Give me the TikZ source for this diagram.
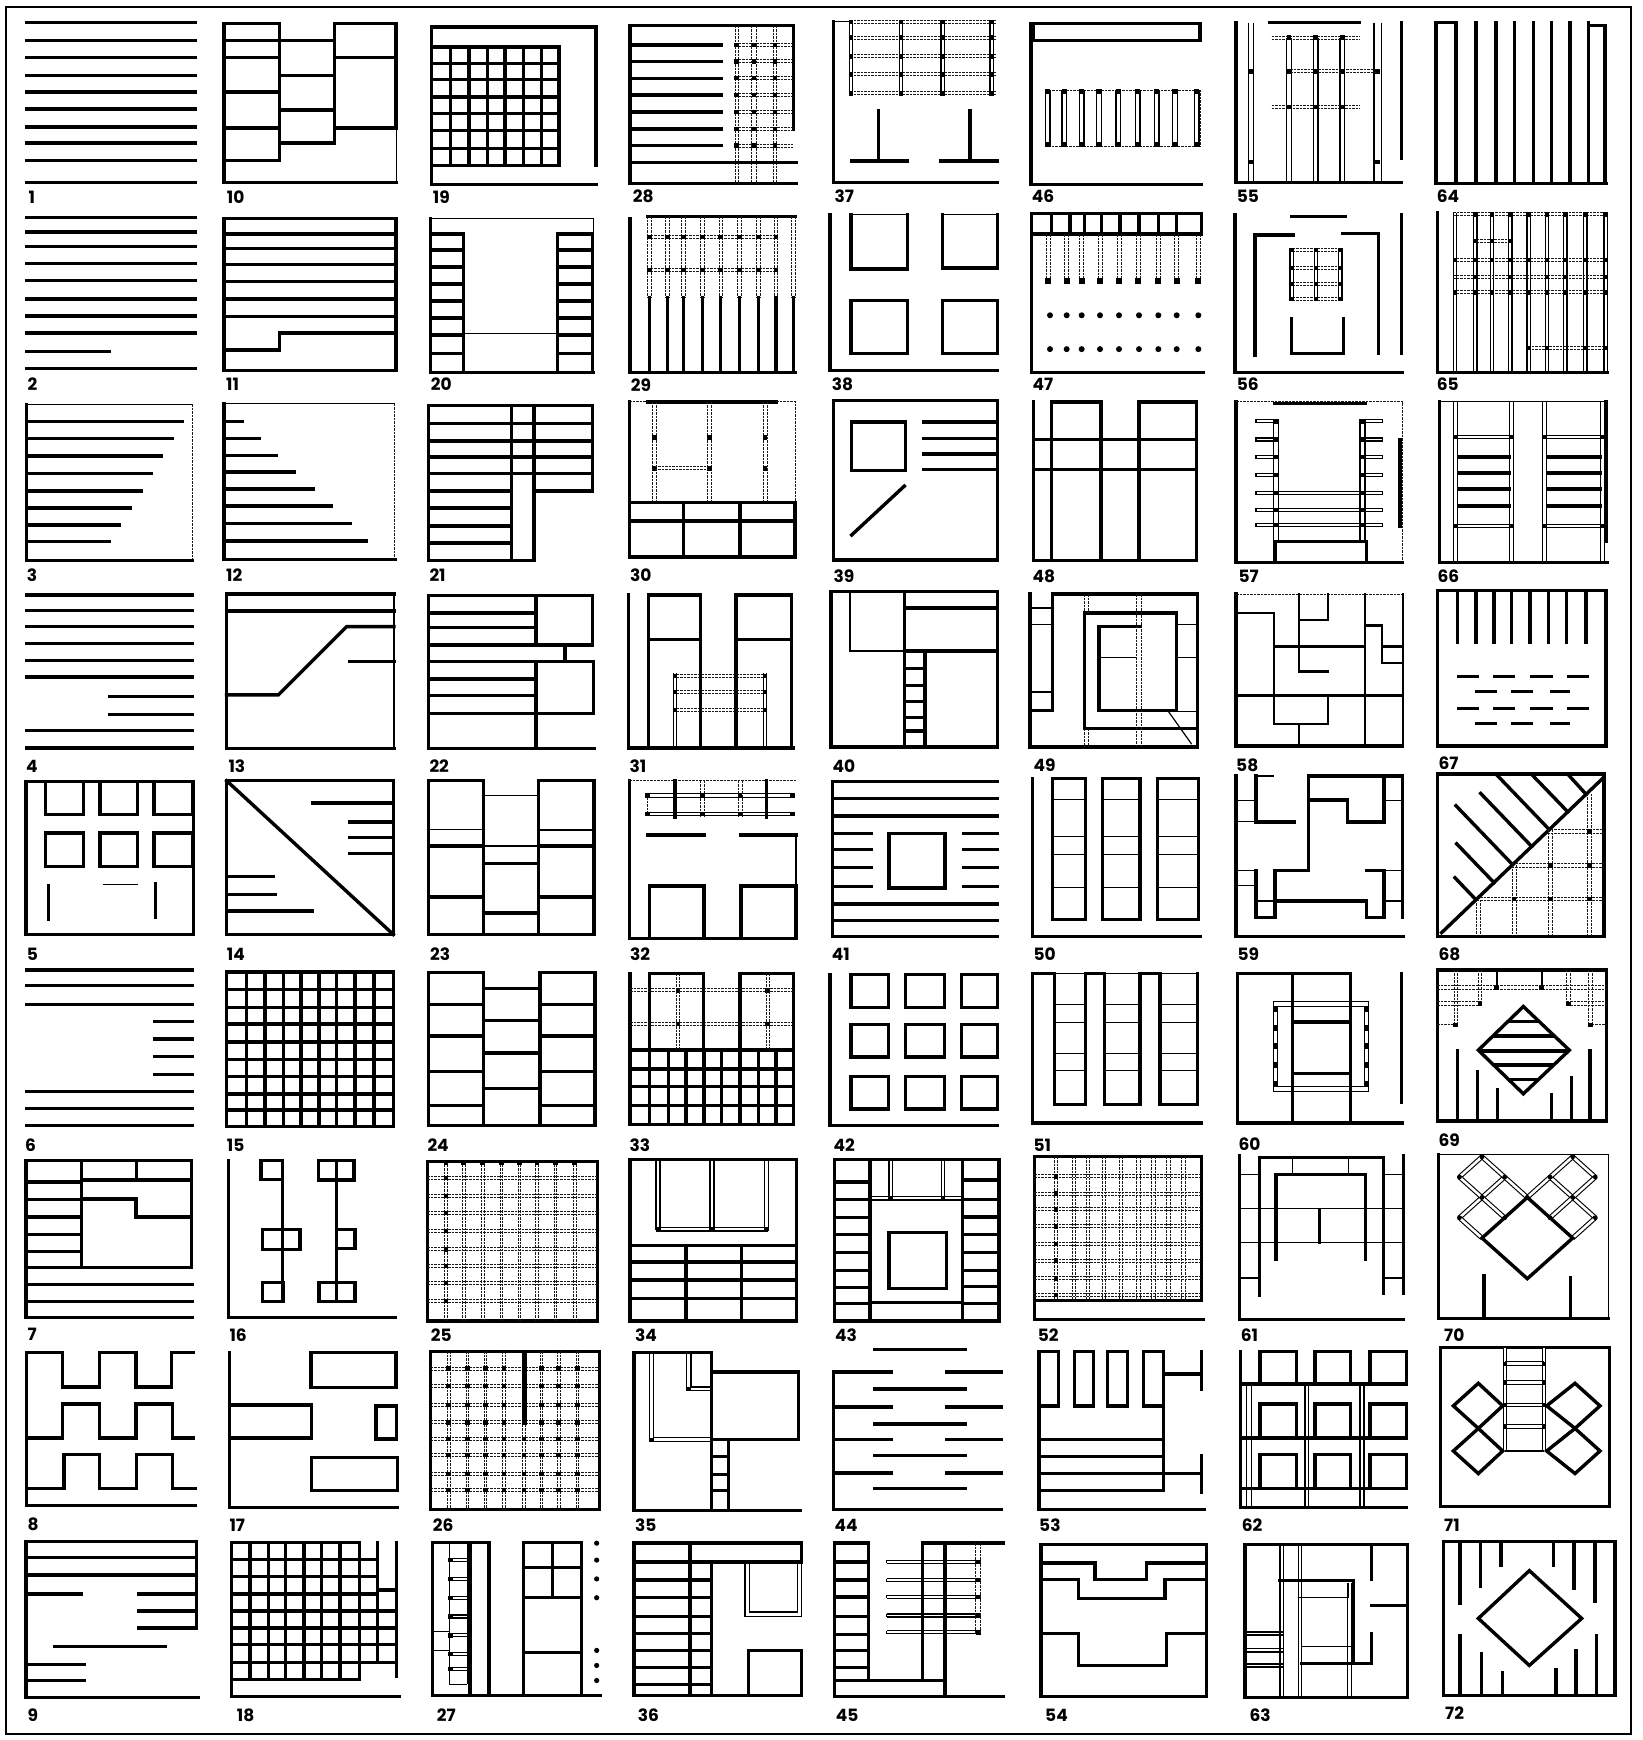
\documentclass[tikz,border=0pt]{standalone}
\usepackage{fontspec}
\setsansfont{Poppins}
\tikzset{
 thk/.style={line width=3.4pt, line cap=rect},
 med/.style={line width=2.2pt, line cap=rect},
 thn/.style={line width=1.2pt},
 dtd/.style={line width=1pt, dash pattern=on 2.5pt off 1pt, black!90},
 dbl/.style={double=white, double distance=2.6pt, line width=1.1pt},
 lab/.style={anchor=west, inner sep=0pt, font=\sffamily\bfseries\fontsize{17}{17}\selectfont},
 zA/.style 2 args={shift={(#1pt,-#2pt)}, x=0.333333pt, y=-0.376223pt},
 zB/.style 2 args={shift={(#1pt,-#2pt)}, x=0.333333pt, y=-0.373134pt},
}
\newcommand\blk[2]{\fill ({#1},{#2}) ++(-2.2pt,-2.2pt) rectangle ++(4.4pt,4.4pt);}
\begin{document}
\begin{tikzpicture}[x=1pt,y=-1pt]
\useasboundingbox (0,0) rectangle (1643,1740);
\draw[line width=2.6pt] (6,7) rectangle (1631,1734);

%================ zoom 1
\begin{scope}[zA={0}{0}]
% 1
\foreach \y in {60,107,153,200,245,290,338,380,427,485} {\draw[thk] (80,\y)--(585,\y);}
\node[lab] (L1) at (85,525) {1};
% 2
\foreach \y in {578,617,655,700,745,795,840,885,980} {\draw[thk] (80,\y)--(585,\y);}
\draw[thk] (80,935)--(328,935);
\node[lab] (L2) at (82,1020) {2};
% 3
\draw[thn] (80,1075)--(578,1075); \draw[dtd] (578,1075)--(578,1490);
\draw[thk] (80,1075)--(80,1490)--(578,1490);
\foreach \y/\e in {1120/548,1165/517,1212/485,1258/453,1305/425,1350/392,1395/358,1440/328} {\draw[thk] (80,\y)--(\e,\y);}
\node[lab] (L3) at (80,1530) {3};
% 10
\draw[thk] (672,63) rectangle (838,427);
\foreach \y in {107,153,245,340} {\draw[thk] (672,\y)--(838,\y);}
\draw[thk] (838,107) rectangle (1003,380);
\draw[thk] (838,201)--(1003,201); \draw[thk] (838,292)--(1003,292);
\draw[thk] (1003,63) rectangle (1188,340);
\draw[thk] (1003,153)--(1188,153);
\draw[thk] (672,427)--(672,485)--(1190,485);
\draw[thn] (1190,485)--(1190,340);
\node[lab] (L10) at (680,525) {10};
% 11
\draw[thk] (672,580) rectangle (1188,985);
\foreach \y in {622,660,703,748,795,842} {\draw[thk] (672,\y)--(1188,\y);}
\draw[thk] (672,930)--(838,930)--(838,885)--(1188,885);
\node[lab] (L11) at (678,1022) {11};
% 12
\draw[thn] (672,1073)--(1185,1073); \draw[dtd] (1185,1073)--(1185,1487);
\draw[thk] (672,1073)--(672,1487)--(1185,1487);
\foreach \y/\e in {1120/728,1165/778,1210/828,1255/883,1300/940,1345/995,1392/1050,1438/1100} {\draw[thk] (672,\y)--(\e,\y);}
\node[lab] (L12) at (678,1530) {12};
\end{scope}

%================ zoom 2
\begin{scope}[zA={410}{0}]
% 19
\draw[thk] (65,72)--(558,72)--(558,440);
\draw[thk] (65,72)--(65,490)--(560,490);
\foreach \x in {65,122,177,232,285,340,395,447} {\draw[thk] (\x,125)--(\x,440);}
\foreach \y in {125,168,212,258,302,347,395,440} {\draw[thk] (65,\y)--(447,\y);}
\node[lab] (L19) at (68,525) {19};
% 28
\draw[thk] (660,68)--(1150,68)--(1150,345);
\draw[thk] (660,68)--(660,487)--(1158,487);
\foreach \x in {975,985,1025,1040,1090,1100} {\draw[dtd] (\x,68)--(\x,487);}
\foreach \y in {120,163,208,252,298,343,387} {\draw[thk] (660,\y)--(935,\y); \draw[dtd] (975,\y-4)--(1150,\y-4); \draw[dtd] (975,\y+4)--(1150,\y+4); \blk{980}{\y} \blk{1032}{\y} \blk{1095}{\y}}
\draw[thk] (660,432)--(1158,432);
\node[lab] (L28) at (668,523) {28};
% 29
\draw[thk] (660,580)--(660,990)--(1155,990);
\draw[thk] (712,575)--(1155,575);
\foreach \x in {718,772,820,877,932,988,1045,1098,1150} {\draw[thk] (\x,790)--(\x,990); \draw[dtd] (\x-5,575)--(\x-5,790); \draw[dtd] (\x+5,575)--(\x+5,790);}
\foreach \y in {630,718} {\draw[dtd] (712,\y-4)--(1100,\y-4); \draw[dtd] (712,\y+4)--(1100,\y+4); \foreach \x in {718,772,820,877,932,988,1045,1098} {\blk{\x}{\y}}}
\node[lab] (L29) at (662,1025) {29};
% 30
\draw[thk] (712,1068)--(1098,1068);
\draw[dtd] (658,1068)--(712,1068); \draw[dtd] (1098,1068)--(1155,1068)--(1155,1335);
\draw[thk] (658,1068)--(658,1480)--(1155,1480)--(1155,1335)--(658,1335);
\draw[thk] (658,1385)--(1155,1385);
\draw[thk] (820,1335)--(820,1480); \draw[thk] (990,1335)--(990,1480);
\foreach \x in {734,899,1065} {\draw[dtd] (\x-6,1068)--(\x-6,1335); \draw[dtd] (\x+6,1068)--(\x+6,1335); \blk{\x}{1163} \blk{\x}{1245}}
\draw[dtd] (734,1241)--(899,1241); \draw[dtd] (734,1249)--(899,1249);
\node[lab] (L30) at (660,1530) {30};
% 20
\draw[thn] (62,580)--(550,580)--(550,990);
\draw[thk] (62,580)--(62,990)--(550,990);
\draw[thk] (62,622) rectangle (160,990);
\draw[thk] (442,622) rectangle (548,990);
\foreach \y in {665,710,755,800,845,890,940} {\draw[thk] (62,\y)--(160,\y); \draw[thk] (442,\y)--(548,\y);}
\draw[thn] (160,887)--(442,887);
\node[lab] (L20) at (62,1022) {20};
% 21
\draw[thk] (55,1078) rectangle (305,1490);
\draw[thk] (305,1078) rectangle (372,1490);
\draw[thk] (372,1078) rectangle (548,1305);
\foreach \y in {1125,1172,1215,1258} {\draw[thk] (55,\y)--(548,\y);}
\foreach \y in {1305,1350,1398,1443} {\draw[thk] (55,\y)--(305,\y);}
\node[lab] (L21) at (58,1530) {21};
\end{scope}

%================ zoom 3
\begin{scope}[zA={815}{0}]
% 37
\draw[thk] (55,58)--(55,485)--(548,485);
\draw[thn] (55,58)--(105,58);
\foreach \x in {108,258,383,530} {\draw[thn] (\x-5,58)--(\x-5,250); \draw[thn] (\x+5,58)--(\x+5,250);}
\foreach \y in {58,100,150,198,248} {\draw[dtd] (105,\y-4)--(545,\y-4); \draw[dtd] (105,\y+4)--(545,\y+4); \foreach \x in {108,258,383,530} {\blk{\x}{\y}}}
\draw[thk] (190,295)--(190,428); \draw[thk] (110,428)--(278,428);
\draw[thk] (465,295)--(465,428); \draw[thk] (378,428)--(548,428);
\node[lab] (L37) at (58,522) {37};
% 46
\draw[thk] (655,62) rectangle (1155,108);
\draw[thk] (648,62)--(648,490)--(1160,490);
\draw[dtd] (690,240) rectangle (1155,390);
\foreach \x in {698,748,800,852,910,968,1025,1080,1145} {\draw[thn] (\x-7,240)--(\x-7,390); \draw[thn] (\x+7,240)--(\x+7,390); \fill (\x-8,236) rectangle (\x+8,250); \fill (\x-8,378) rectangle (\x+8,392);}
\node[lab] (L46) at (650,522) {46};
% 38
\draw[thk] (45,570)--(45,985)--(548,985);
\draw[thk] (108,570)--(108,715)--(278,715)--(278,570); \draw[thn] (108,570)--(278,570);
\draw[thk] (383,570)--(383,712)--(548,712)--(548,570); \draw[thn] (383,570)--(548,570);
\draw[thk] (108,798) rectangle (278,940);
\draw[thk] (383,798) rectangle (548,940);
\node[lab] (L38) at (50,1022) {38};
% 47
\draw[thk] (650,568) rectangle (1160,622);
\foreach \x in {710,765,808,860,915,972,1030,1085} {\draw[thk] (\x,568)--(\x,622);}
\draw[thk] (650,622)--(650,990)--(1165,990);
\foreach \x in {700,755,800,855,912,970,1030,1085,1150} {\draw[dtd] (\x-6,622)--(\x-6,750); \draw[dtd] (\x+6,622)--(\x+6,750); \fill (\x-9,740) rectangle (\x+9,755);}
\foreach \x in {705,755,800,855,912,972,1030,1085,1150} {\fill (\x,838) circle (3pt); \fill (\x,928) circle (3pt);}
\node[lab] (L47) at (652,1022) {47};
% 39
\draw[thk] (55,1065) rectangle (548,1488);
\draw[thk] (110,1122) rectangle (272,1250);
\foreach \y in {1122,1165,1207,1248} {\draw[thk] (325,\y)--(548,\y);}
\draw[thk] (110,1422)--(268,1292);
\node[lab] (L39) at (55,1532) {39};
% 48
\draw[thk] (655,1068)--(655,1490)--(1145,1490)--(1145,1068)--(972,1068)--(972,1490);
\draw[thk] (710,1490)--(710,1068)--(858,1068)--(858,1490);
\draw[thk] (655,1168)--(1145,1168); \draw[thk] (655,1248)--(1145,1248);
\node[lab] (L48) at (652,1532) {48};
\end{scope}

%================ zoom 4
\begin{scope}[zA={1220}{0}]
% 55
\draw[thk] (48,60)--(48,485)--(545,485);
\draw[thk] (150,60)--(418,60);
\draw[thk] (545,60)--(545,420);
\foreach \x in {85,100,462,485} {\draw[thn] (\x,60)--(\x,485);}
\blk{92}{190} \blk{92}{430} \blk{473}{190} \blk{473}{430}
\foreach \x in {207,287,367} {\draw[thn] (\x-7,100)--(\x-7,485); \draw[thn] (\x+7,100)--(\x+7,485);}
\draw[dtd] (155,96)--(420,96); \draw[dtd] (155,104)--(420,104);
\draw[dtd] (200,186)--(475,186); \draw[dtd] (200,194)--(475,194);
\draw[dtd] (155,281)--(420,281); \draw[dtd] (155,289)--(420,289);
\foreach \x in {207,287,367} {\blk{\x}{100} \blk{\x}{190} \blk{\x}{285}}
\node[lab] (L55) at (50,522) {55};
% 64
\draw[thk] (648,60)--(648,488)--(1160,488);
\draw[thk] (648,60)--(708,60);
\foreach \x in {708,768,828,883,940,995,1050,1105} {\draw[thk] (\x,60)--(\x,488);}
\draw[thk] (1105,68)--(1155,68)--(1155,488);
\node[lab] (L64) at (650,522) {64};
% 56
\draw[thk] (45,570)--(45,990)--(548,990);
\draw[thk] (545,570)--(545,940);
\draw[thk] (215,575)--(375,575);
\draw[thk] (105,945)--(105,625)--(220,625);
\draw[thk] (368,620)--(475,620)--(475,940);
\draw[thk] (215,848)--(215,940)--(370,940)--(370,848);
\foreach \x in {215,288,361} {\draw[thn] (\x-5,660)--(\x-5,797); \draw[thn] (\x+5,660)--(\x+5,797);}
\foreach \y in {665,712,755,795} {\draw[dtd] (208,\y-4)--(365,\y-4); \draw[dtd] (208,\y+4)--(365,\y+4); \foreach \x in {215,288,361} {\blk{\x}{\y}}}
\node[lab] (L56) at (50,1022) {56};
% 65
\draw[thk] (652,565)--(652,990)--(1162,990);
\foreach \x in {705,766,816,871,926,981,1036,1096,1157} {\draw[thn] (\x-5,565)--(\x-5,990); \draw[thn] (\x+5,565)--(\x+5,990);}
\foreach \y in {570,691,737,777} {\draw[dtd] (700,\y-4)--(1162,\y-4); \draw[dtd] (700,\y+4)--(1162,\y+4);}
\draw[dtd] (925,921)--(1162,921); \draw[dtd] (925,929)--(1162,929);
\draw[dtd] (760,636)--(880,636); \draw[dtd] (760,644)--(880,644);
\foreach \x in {766,816,871,926,981,1036,1096,1157} {\blk{\x}{570}}
\foreach \x in {766,816,871} {\blk{\x}{640}}
\foreach \x in {705,766,816,871,926,981,1036,1096,1157} {\blk{\x}{691} \blk{\x}{777}}
\foreach \x in {766,871,981,1036,1157} {\blk{\x}{737}}
\foreach \x in {926,981,1096,1157} {\blk{\x}{925}}
\node[lab] (L65) at (650,1022) {65};
% 57
\draw[thk] (48,1068)--(48,1495)--(548,1495);
\draw[dtd] (48,1068)--(548,1068)--(548,1495);
\draw[thk] (165,1072)--(435,1072);
\draw[thk] (540,1170)--(540,1400);
\foreach \x in {160,175,420,435} {\draw[thn] (\x,1115)--(\x,1440);}
\foreach \y in {1120,1168,1215,1262,1310,1355,1395} {\draw[thn] (108,\y-4) rectangle (160,\y+4); \draw[thn] (435,\y-4) rectangle (487,\y+4); \blk{168}{\y} \blk{428}{\y}}
\foreach \y in {1310,1355,1395} {\draw[thn] (175,\y-4)--(420,\y-4); \draw[thn] (175,\y+4)--(420,\y+4);}
\draw[thk] (165,1440) rectangle (440,1495);
\node[lab] (L57) at (55,1532) {57};
% 66
\draw[thk] (658,1068)--(658,1495)--(1162,1495);
\draw[thn] (658,1068)--(1158,1068);
\draw[thk] (1158,1068)--(1158,1440);
\foreach \x in {707,875,974,1148} {\draw[thn] (\x-6,1068)--(\x-6,1495); \draw[thn] (\x+6,1068)--(\x+6,1495);}
\foreach \a/\b in {707/875,974/1148} {
  \draw[thn] (\a,1157)--(\b,1157); \draw[thn] (\a,1165)--(\b,1165);
  \draw[thn] (\a,1394)--(\b,1394); \draw[thn] (\a,1402)--(\b,1402);
  \foreach \y in {1215,1257,1300,1345} {\draw[thk] (\a+8,\y)--(\b-8,\y);}
  \blk{\a}{1161} \blk{\b}{1161} \blk{\a}{1398} \blk{\b}{1398}}
\node[lab] (L66) at (652,1532) {66};
\end{scope}

%================ zoom 5
\begin{scope}[zB={0}{580}]
% 4
\foreach \y in {40,82,125,170,215,260,403,450} {\draw[thk] (80,\y)--(578,\y);}
\foreach \y in {312,360} {\draw[thk] (328,\y)--(578,\y);}
\node[lab] (L4) at (78,500) {4};
% 13
\draw[thn] (1182,38)--(1182,452);
\draw[thk] (1182,38)--(680,38)--(680,452)--(1182,452);
\draw[thk] (680,83)--(1182,83);
\draw[thk] (680,308)--(835,308)--(1040,125)--(1182,125);
\draw[thk] (1050,218)--(1182,218);
\node[lab] (L13) at (685,500) {13};
% 5
\draw[thk] (78,540) rectangle (580,950);
\foreach \a/\b in {137/250,300/413,462/578} {\draw[thk] (\a,540) rectangle (\b,628); \draw[thk] (\a,678) rectangle (\b,768);}
\draw[thk] (145,820)--(145,910); \draw[thn] (308,815)--(415,815); \draw[thk] (467,815)--(467,905);
\node[lab] (L5) at (80,1003) {5};
% 14
\draw[thk] (680,538) rectangle (1180,950);
\draw[thk] (680,538)--(1180,950);
\draw[thk] (937,598)--(1180,598);
\foreach \y in {648,690,733} {\draw[thk] (1048,\y)--(1180,\y);}
\draw[thk] (680,795)--(820,795); \draw[thk] (680,843)--(825,843); \draw[thk] (680,887)--(938,887);
\node[lab] (L14) at (680,1003) {14};
% 6
\foreach \y in {1045,1087,1137,1370,1417,1462} {\draw[thk] (80,\y)--(578,\y);}
\foreach \y in {1183,1230,1277,1325} {\draw[thk] (463,\y)--(578,\y);}
\node[lab] (L6) at (75,1515) {6};
% 15
\foreach \x in {680,740,795,850,903,957,1010,1065,1122,1180} {\draw[thk] (\x,1050)--(\x,1465);}
\foreach \y in {1050,1097,1145,1190,1238,1285,1330,1378,1420,1465} {\draw[thk] (680,\y)--(1180,\y);}
\node[lab] (L15) at (680,1515) {15};
\end{scope}

%================ zoom 6
\begin{scope}[zB={410}{580}]
% 22
\draw[thk] (55,42)--(55,452)--(552,452);
\draw[thk] (378,42) rectangle (548,174);
\draw[thk] (378,218) rectangle (550,358);
\draw[thk] (378,358)--(378,452);
\foreach \y in {42,88,128,174,218,265,310,358} {\draw[thk] (55,\y)--(378,\y);}
\draw[thk] (465,174)--(465,218);
\node[lab] (L22) at (58,500) {22};
% 31
\draw[thk] (655,40)--(655,450)--(1150,450);
\draw[thk] (715,40) rectangle (872,450); \draw[thk] (715,160)--(872,160);
\draw[thk] (978,40) rectangle (1145,450); \draw[thk] (978,160)--(1145,160);
\foreach \x in {795,1065} {\draw[thn] (\x-5,250)--(\x-5,450); \draw[thn] (\x+5,250)--(\x+5,450);}
\foreach \y in {258,300,348} {\draw[dtd] (790,\y-4)--(1070,\y-4); \draw[dtd] (790,\y+4)--(1070,\y+4); \blk{795}{\y} \blk{1065}{\y}}
\node[lab] (L31) at (658,500) {31};
% 23
\draw[thk] (55,538) rectangle (220,950);
\draw[thn] (55,668)--(220,668); \draw[thk] (55,713)--(220,713); \draw[thk] (55,850)--(220,850);
\draw[thn] (220,578)--(385,578); \draw[thn] (220,713)--(385,713); \draw[thk] (220,760)--(385,760); \draw[thk] (220,892)--(385,892); \draw[thk] (220,950)--(385,950);
\draw[thk] (385,538) rectangle (552,950);
\draw[thn] (385,670)--(552,670); \draw[thk] (385,713)--(552,713); \draw[thk] (385,850)--(552,850);
\node[lab] (L23) at (60,1003) {23};
% 32
\draw[thk] (658,538)--(658,960)--(1158,960);
\draw[dtd] (658,538)--(1158,538);
\foreach \y in {578,627} {\draw[thn] (708,\y-5)--(1155,\y-5); \draw[thn] (708,\y+5)--(1155,\y+5);}
\draw[thk] (795,538)--(795,635); \draw[thk] (1070,538)--(1070,635);
\foreach \x in {877,990} {\draw[dtd] (\x-6,538)--(\x-6,635); \draw[dtd] (\x+6,538)--(\x+6,635);}
\draw[dtd] (712,573)--(712,632);
\foreach \x in {712,877,990,1147} {\blk{\x}{578} \blk{\x}{627}}
\draw[thk] (712,683)--(882,683); \draw[thk] (993,683)--(1158,683);
\draw[thn] (1158,683)--(1158,820);
\draw[thk] (718,960)--(718,820)--(882,820)--(882,960);
\draw[thk] (993,960)--(993,820)--(1158,820)--(1158,960);
\node[lab] (L32) at (660,1003) {32};
% 24
\draw[thk] (55,1052) rectangle (220,1462);
\draw[thk] (390,1052) rectangle (555,1462);
\foreach \y in {1138,1222,1317,1408} {\draw[thk] (55,\y)--(220,\y); \draw[thk] (390,\y)--(555,\y);}
\foreach \y in {1095,1180,1268,1362,1462} {\draw[thk] (220,\y)--(390,\y);}
\node[lab] (L24) at (52,1515) {24};
% 33
\draw[thk] (660,1055)--(660,1460)--(1150,1460)--(1150,1260)--(660,1260);
\draw[thk] (718,1260)--(718,1055)--(880,1055)--(880,1260);
\draw[thk] (990,1260)--(990,1055)--(1150,1055)--(1150,1260);
\foreach \y in {1100,1190} {\draw[dtd] (660,\y-4)--(1150,\y-4); \draw[dtd] (660,\y+4)--(1150,\y+4); \blk{804}{\y} \blk{1073}{\y}}
\foreach \x in {804,1073} {\draw[dtd] (\x-5,1055)--(\x-5,1260); \draw[dtd] (\x+5,1055)--(\x+5,1260);}
\foreach \x in {718,775,828,882,935,990,1045,1098} {\draw[thk] (\x,1260)--(\x,1460);}
\foreach \y in {1310,1358,1408} {\draw[thk] (660,\y)--(1150,\y);}
\node[lab] (L33) at (658,1515) {33};
\end{scope}

%================ zoom 7
\begin{scope}[zB={815}{580}]
% 40
\draw[thk] (48,30) rectangle (548,448);
\draw[thn] (105,30)--(105,190)--(268,190);
\draw[thk] (268,30)--(268,448);
\draw[thk] (268,75)--(548,75); \draw[thk] (268,190)--(548,190);
\draw[thk] (330,190)--(330,448);
\foreach \y in {237,283,325,368,405} {\draw[thk] (268,\y)--(330,\y);}
\node[lab] (L40) at (52,500) {40};
% 49
\draw[thk] (645,38)--(645,448)--(1148,448)--(1148,38)--(712,38)--(712,350)--(645,350);
\foreach \y in {75,120,300} {\draw[thn] (645,\y)--(712,\y);}
\draw[thk] (808,398)--(808,88)--(1085,88)--(1085,350)--(852,350)--(852,125)--(975,125);
\draw[thn] (852,208)--(965,208);
\draw[thk] (808,398)--(1148,398);
\foreach \y in {120,208,352} {\draw[thn] (1085,\y)--(1148,\y);}
\draw[dtd] (965,38)--(965,448); \draw[dtd] (978,38)--(978,448);
\draw[dtd] (808,38)--(808,88); \draw[dtd] (820,38)--(820,88); \draw[dtd] (808,398)--(808,448); \draw[dtd] (820,398)--(820,448);
\draw[thn] (1060,352)--(1130,440);
\node[lab] (L49) at (655,497) {49};
% 41
\draw[thk] (52,540)--(52,955);
\foreach \y in {540,585,632,868,912,955} {\draw[thk] (52,\y)--(548,\y);}
\foreach \y in {680,722,770,822} {\draw[thk] (52,\y)--(168,\y); \draw[thk] (445,\y)--(548,\y);}
\draw[thk] (222,680) rectangle (390,825);
\node[lab] (L41) at (50,1003) {41};
% 50
\draw[thk] (652,532)--(652,955)--(1155,955);
\foreach \a/\b in {712/812,862/975,1028/1150} {\draw[thk] (\a,532) rectangle (\b,910); \foreach \y in {588,688,735,825} {\draw[thn] (\a,\y)--(\b,\y);}}
\node[lab] (L50) at (655,1003) {50};
% 42
\draw[thk] (45,1058)--(45,1462)--(548,1462);
\foreach \a/\b in {108/220,272/388,440/548} {\foreach \c/\d in {1058/1145,1192/1278,1330/1418} {\draw[thk] (\a,\c) rectangle (\b,\d);}}
\node[lab] (L42) at (55,1515) {42};
% 51
\draw[thk] (652,1055)--(652,1455)--(1158,1455);
\draw[thk] (652,1055)--(718,1055)--(718,1405)--(812,1405)--(812,1055)--(868,1055)--(868,1405)--(975,1405)--(975,1055)--(1035,1055)--(1035,1405)--(1148,1405)--(1148,1055);
\foreach \a/\b in {718/812,868/975,1035/1148} {\draw[thn] (\a,1055)--(\b,1055); \foreach \y in {1138,1185,1268,1315} {\draw[thn] (\a,\y)--(\b,\y);}}
\node[lab] (L51) at (655,1515) {51};
\end{scope}

%================ zoom 8
\begin{scope}[zB={1220}{580}]
% 58
\draw[thk] (48,38)--(48,445)--(548,445);
\draw[dtd] (48,38)--(548,38);
\draw[med] (548,38)--(548,445);
\draw[med] (48,88)--(162,88)--(162,385)--(325,385)--(325,310);
\draw[med] (162,178)--(435,178);
\draw[med] (238,38)--(238,245)--(325,245);
\draw[med] (238,108)--(325,108)--(325,38);
\draw[med] (435,38)--(435,445);
\draw[med] (435,122)--(485,122)--(485,222)--(548,222);
\draw[med] (485,178)--(548,178);
\draw[med] (238,385)--(238,445);
\draw[thk] (48,310)--(548,310);
\node[lab] (L58) at (48,497) {58};
% 67
\draw[thk] (652,28) rectangle (1158,445);
\foreach \x in {712,768,822,875,930,985,1040,1098} {\draw[thk] (\x,28)--(\x,168);}
\foreach \y in {258,345} {\foreach \a/\b in {715/772,825/880,935/995,1045/1102} {\draw[thk] (\a,\y)--(\b,\y);}}
\foreach \y in {298,385} {\foreach \a/\b in {770/825,878/935,995/1045} {\draw[thk] (\a,\y)--(\b,\y);}}
\node[lab] (L67) at (655,492) {67};
% 59
\draw[thk] (48,525)--(48,955)--(550,955);
\draw[thk] (548,525)--(548,905);
\draw[thn] (108,525)--(162,525);
\draw[thk] (108,525)--(108,648)--(222,648);
\draw[thk] (265,525)--(548,525);
\draw[thk] (265,525)--(265,778)--(165,778)--(165,860);
\draw[thk] (108,778)--(108,905)--(165,905)--(165,860)--(440,860)--(440,905)--(492,905)--(492,778)--(440,778);
\draw[thk] (382,590)--(382,648)--(492,648)--(492,525);
\draw[thk] (265,590)--(382,590);
\foreach \y in {590,648,778,818} {\draw[thn] (48,\y)--(108,\y);}
\draw[thn] (108,860)--(165,860);
\foreach \y in {590,778,860} {\draw[thn] (492,\y)--(548,\y);}
\node[lab] (L59) at (52,1003) {59};
% 68
\draw[thk] (652,520) rectangle (1152,955);
\draw[thk] (665,945)--(1150,530);
\draw[thk] (705,798)--(768,857);
\draw[thk] (710,707)--(822,811);
\draw[thk] (708,605)--(878,763);
\draw[thk] (782,572)--(935,714);
\draw[thk] (830,522)--(988,669);
\draw[thk] (936,522)--(1043,621);
\draw[thk] (1045,522)--(1098,574);
\foreach \x/\t in {774/857,882/765,992/668,1108/573} {\draw[dtd] (\x-6,\t)--(\x-6,955); \draw[dtd] (\x+6,\t)--(\x+6,955);}
\foreach \y/\s in {674/982,765/875,855/770} {\draw[dtd] (\s,\y-5)--(1152,\y-5); \draw[dtd] (\s,\y+5)--(1152,\y+5);}
\blk{882}{855} \blk{992}{855} \blk{1108}{855} \blk{992}{765} \blk{1108}{765} \blk{1108}{674}
\node[lab] (L68) at (655,1003) {68};
% 60
\draw[thk] (52,1055)--(52,1455)--(548,1455);
\draw[thk] (52,1055)--(392,1055);
\draw[thk] (218,1055)--(218,1455); \draw[thk] (392,1055)--(392,1455);
\draw[thk] (545,1055)--(545,1400);
\draw[thn] (160,1130) rectangle (445,1370);
\draw[thn] (172,1142) rectangle (433,1358);
\foreach \y in {1150,1200,1250,1300,1350} {\fill (160,\y-8) rectangle (172,\y+8); \fill (433,\y-8) rectangle (445,\y+8);}
\draw[thk] (218,1185)--(392,1185); \draw[thk] (218,1322)--(392,1322);
\node[lab] (L60) at (55,1512) {60};
% 69
\draw[thk] (652,1045) rectangle (1160,1450);
\draw[thk] (910,1143)--(1048,1260)--(910,1377)--(775,1260)--cycle;
\begin{scope}
\clip (910,1143)--(1048,1260)--(910,1377)--(775,1260)--cycle;
\foreach \y in {1183,1222,1262,1300,1338} {\draw[thk] (760,\y)--(1060,\y);}
\end{scope}
\foreach \y in {1088,1098} {\draw[dtd] (652,\y)--(1160,\y);}
\foreach \y in {1130,1140} {\draw[dtd] (652,\y)--(785,\y); \draw[dtd] (1040,\y)--(1160,\y);}
\foreach \x in {702,712,1105,1118} {\draw[dtd] (\x,1045)--(\x,1195);}
\foreach \x in {775,785,1040,1050} {\draw[dtd] (\x,1045)--(\x,1140);}
\draw[dtd] (652,1190)--(712,1190); \draw[dtd] (1105,1190)--(1160,1190);
\draw[med] (830,1045)--(830,1095); \draw[med] (965,1045)--(965,1095);
\blk{830}{1093} \blk{965}{1093} \blk{780}{1137} \blk{1045}{1137} \blk{707}{1193} \blk{1112}{1193}
\draw[thk] (712,1262)--(712,1450); \draw[thk] (772,1318)--(772,1450); \draw[thk] (833,1365)--(833,1450);
\draw[thk] (995,1380)--(995,1450); \draw[thk] (1055,1335)--(1055,1450); \draw[thk] (1110,1262)--(1110,1450);
\node[lab] (L69) at (655,1500) {69};
\end{scope}

%================ zoom 9
\begin{scope}[zA={0}{1150}]
% 7
\draw[thk] (78,28)--(575,28)--(575,312)--(78,312);
\draw[thk] (78,28)--(78,445)--(578,445);
\draw[thk] (245,28)--(245,312);
\draw[thk] (245,80)--(575,80); \draw[thk] (410,28)--(410,80);
\draw[thk] (245,130)--(408,130)--(408,178)--(575,178);
\foreach \y in {85,132,178,225,270} {\draw[thk] (78,\y)--(245,\y);}
\draw[thk] (78,358)--(578,358); \draw[thk] (78,403)--(578,403);
\node[lab] (L7) at (82,490) {7};
% 16
\draw[thk] (685,28)--(685,445)--(1185,445);
\draw[thk] (848,28)--(848,400); \draw[thk] (1010,28)--(1010,400);
\draw[thk] (783,28) rectangle (848,78);
\draw[thk] (787,212) rectangle (900,265);
\draw[thk] (787,352) rectangle (850,402);
\draw[thk] (955,28) rectangle (1062,80);
\draw[thk] (1010,212) rectangle (1065,262);
\draw[thk] (957,352) rectangle (1065,402);
\node[lab] (L16) at (688,492) {16};
% 8
\draw[thk] (80,538)--(80,945)--(585,945);
\draw[thk] (80,538)--(188,538)--(188,630)--(298,630)--(298,538)--(408,538)--(408,630)--(515,630)--(515,538)--(580,538);
\draw[thk] (80,765)--(188,765)--(188,675)--(298,675)--(298,765)--(408,765)--(408,675)--(518,675)--(518,765)--(580,765);
\draw[thk] (80,900)--(192,900)--(192,810)--(298,810)--(298,900)--(410,900)--(410,810)--(518,810)--(518,900)--(585,900);
\node[lab] (L8) at (82,995) {8};
% 17
\draw[thk] (688,538)--(688,950)--(1192,950);
\draw[thk] (933,538) rectangle (1188,632);
\draw[thk] (688,678)--(935,678)--(935,765)--(688,765);
\draw[thk] (1128,680) rectangle (1190,768);
\draw[thk] (935,818) rectangle (1192,905);
\node[lab] (L17) at (688,998) {17};
% 9
\draw[thk] (78,1040)--(78,1455)--(595,1455);
\draw[thk] (78,1040)--(590,1040)--(590,1270);
\foreach \y in {1083,1130} {\draw[thk] (78,\y)--(590,\y);}
\draw[thk] (78,1180)--(245,1180);
\foreach \y in {1180,1225,1270} {\draw[thk] (415,\y)--(590,\y);}
\draw[thk] (165,1320)--(497,1320);
\foreach \y in {1367,1410} {\draw[thk] (78,\y)--(252,\y);}
\node[lab] (L9) at (82,1502) {9};
% 18
\foreach \x in {695,750,805,857,912,965,1020,1078} {\draw[thk] (\x,1043)--(\x,1408);}
\foreach \y in {1043,1088,1133,1180,1225,1270,1315,1362,1408} {\draw[thk] (695,\y)--(1078,\y);}
\foreach \y in {1088,1133,1180,1225,1270,1315,1362} {\draw[thk] (1078,\y)--(1132,\y);}
\draw[thk] (1132,1043)--(1132,1362);
\draw[thk] (1190,1043)--(1190,1400);
\foreach \y in {1170,1225,1270,1315,1362} {\draw[thk] (1132,\y)--(1190,\y);}
\draw[thk] (695,1408)--(695,1452)--(1198,1452);
\node[lab] (L18) at (710,1502) {18};
\end{scope}

%================ zoom 10
\begin{scope}[zA={410}{1150}]
% 25
\draw[thk] (52,30) rectangle (562,455);
\foreach \x in {108,161,218,274,328,381,436,494} {\draw[dtd] (\x-4,30)--(\x-4,455); \draw[dtd] (\x+4,30)--(\x+4,455); \blk{\x}{34}}
\foreach \y in {75,122,168,216,264,308,354,401} {\draw[dtd] (52,\y-4)--(562,\y-4); \draw[dtd] (52,\y+4)--(562,\y+4); \blk{108}{\y}}
\node[lab] (L25) at (62,492) {25};
% 26
\draw[thk] (62,535) rectangle (568,955);
\foreach \x in {116,172,226,282,342,394,446,502} {\draw[dtd] (\x-4,535)--(\x-4,955); \draw[dtd] (\x+4,535)--(\x+4,955);}
\foreach \y in {581,628,678,724,768,811,861,904} {\draw[dtd] (62,\y-4)--(568,\y-4); \draw[dtd] (62,\y+4)--(568,\y+4); \foreach \x in {116,172,226,282,342,394,446,502} {\blk{\x}{\y}}}
\draw[line width=5pt] (342,535)--(342,730);
\node[lab] (L26) at (68,998) {26};
% 27
\draw[thk] (68,1043)--(68,1450)--(570,1450);
\draw[thk] (68,1043)--(180,1043);
\draw[thn] (118,1043)--(118,1420)--(172,1420); \draw[thn] (172,1043)--(172,1420);
\foreach \y in {1090,1140,1190,1240,1290,1340,1380} {\draw[thn] (118,\y-4)--(172,\y-4); \draw[thn] (118,\y+4)--(172,\y+4); \blk{121}{\y}}
\draw[thn] (68,1280)--(118,1280); \draw[thn] (68,1330)--(118,1330);
\draw[thk] (180,1043) rectangle (237,1450);
\draw[thk] (340,1043) rectangle (515,1450);
\draw[thk] (428,1043)--(428,1190);
\foreach \y in {1110,1190,1335} {\draw[thk] (340,\y)--(515,\y);}
\foreach \y in {1045,1090,1140,1190,1330,1370,1410} {\fill (560,\y) circle (2.6pt);}
\node[lab] (L27) at (80,1502) {27};
% 34
\draw[thk] (660,25) rectangle (1160,455);
\foreach \x in {744,906,1070} {\draw[thn] (\x-6,25)--(\x-6,212); \draw[thn] (\x+6,25)--(\x+6,212); \blk{\x}{210}}
\draw[thn] (738,205)--(1075,205); \draw[thn] (738,215)--(1075,215);
\foreach \y in {253,298,345,395} {\draw[thk] (660,\y)--(1160,\y);}
\draw[thk] (828,253)--(828,455); \draw[thk] (995,253)--(995,455);
\node[lab] (L34) at (675,492) {34};
% 35
\draw[thk] (672,538)--(672,958)--(1170,958);
\draw[thk] (672,538)--(905,538)--(905,958);
\draw[thk] (905,590)--(1165,590)--(1165,770)--(905,770);
\draw[thk] (955,770)--(955,958);
\foreach \y in {815,863,905} {\draw[thk] (905,\y)--(955,\y);}
\draw[thn] (718,538)--(718,775)--(905,775); \draw[thn] (730,538)--(730,765)--(905,765); \blk{724}{770}
\draw[thn] (830,538)--(830,640)--(905,640); \draw[thn] (843,538)--(843,630)--(905,630); \blk{837}{635}
\node[lab] (L35) at (675,998) {35};
% 36
\draw[thk] (672,1045)--(672,1450)--(1175,1450);
\draw[thk] (672,1045)--(1175,1045)--(1175,1095)--(840,1095);
\foreach \y in {1095,1143,1190,1240,1285,1330,1375,1420} {\draw[thk] (672,\y)--(905,\y);}
\draw[thk] (840,1045)--(840,1450); \draw[thk] (905,1095)--(905,1450);
\draw[thn] (1005,1095)--(1005,1240)--(1175,1240)--(1175,1095);
\draw[thn] (1018,1095)--(1018,1228)--(1163,1228)--(1163,1095);
\draw[thk] (1015,1450)--(1015,1330)--(1175,1330)--(1175,1450);
\node[lab] (L36) at (683,1502) {36};
\end{scope}

%================ zoom 11
\begin{scope}[zA={815}{1150}]
% 43
\draw[thk] (58,25) rectangle (552,455);
\draw[thk] (165,25)--(165,455); \draw[thk] (442,25)--(442,455);
\foreach \y in {85,132,180,225,272,320,365,408} {\draw[thk] (58,\y)--(165,\y);}
\foreach \y in {80,132,178,225,272,320,362,408} {\draw[thk] (442,\y)--(552,\y);}
\draw[thk] (165,405)--(442,405);
\draw[thk] (222,220) rectangle (395,368);
\foreach \x in {227,384} {\draw[thn] (\x-5,25)--(\x-5,130); \draw[thn] (\x+5,25)--(\x+5,130); \blk{\x}{128}}
\draw[thn] (165,124)--(442,124); \draw[thn] (165,133)--(442,133);
\node[lab] (L43) at (60,492) {43};
% 52
\draw[thk] (658,18)--(658,450)--(1165,450);
\draw[thk] (658,18)--(1160,18)--(1160,400)--(658,400);
\foreach \x in {723,776,818,867,918,970,1015,1060,1105} {\draw[dtd] (\x-5,18)--(\x-5,400); \draw[dtd] (\x+5,18)--(\x+5,400);}
\foreach \y in {70,116,158,203,250,294,341,385} {\draw[dtd] (658,\y-4)--(1160,\y-4); \draw[dtd] (658,\y+4)--(1160,\y+4); \blk{723}{\y}}
\node[lab] (L52) at (668,492) {52};
% 44
\draw[thk] (180,530)--(450,530);
\draw[thk] (55,590)--(55,955)--(560,955);
\foreach \y in {590,683,770,858} {\draw[thk] (55,\y)--(230,\y); \draw[thk] (395,\y)--(560,\y);}
\foreach \y in {635,728,812,900} {\draw[thk] (178,\y)--(452,\y);}
\node[lab] (L44) at (58,998) {44};
% 53
\draw[thk] (672,535)--(672,955)--(1168,955);
\foreach \a/\b in {672/730,778/835,877/937,985/1045} {\draw[thk] (\a,535) rectangle (\b,680);}
\draw[thk] (1045,680)--(1045,905);
\foreach \y in {770,815,860,905} {\draw[thk] (672,\y)--(1045,\y);}
\draw[thk] (1045,595)--(1160,595); \draw[thk] (1160,535)--(1160,635);
\draw[thk] (1045,860)--(1160,860); \draw[thk] (1160,812)--(1160,910);
\node[lab] (L53) at (672,998) {53};
% 45
\draw[thk] (58,1045) rectangle (160,1410);
\foreach \y in {1095,1143,1188,1240,1288,1330,1375} {\draw[thk] (58,\y)--(160,\y);}
\draw[thk] (58,1410) rectangle (390,1452);
\draw[thk] (322,1045) rectangle (390,1410);
\draw[thk] (390,1045)--(565,1045);
\draw[thk] (390,1452)--(565,1452);
\foreach \y in {1095,1143,1188,1237,1282} {\draw[thn] (215,\y-4)--(490,\y-4); \draw[thn] (215,\y+4)--(490,\y+4); \draw[thn] (215,\y-4)--(215,\y+4); \blk{490}{\y}}
\draw[dtd] (482,1045)--(482,1285); \draw[dtd] (495,1045)--(495,1285);
\node[lab] (L45) at (62,1502) {45};
% 54
\draw[thk] (678,1048) rectangle (1175,1452);
\draw[thk] (678,1098)--(840,1098)--(840,1142)--(995,1142)--(995,1098)--(1175,1098);
\draw[thk] (678,1142)--(790,1142)--(790,1192)--(1050,1192)--(1050,1142)--(1175,1142);
\draw[thk] (678,1285)--(790,1285)--(790,1370)--(1055,1370)--(1055,1285)--(1175,1285);
\node[lab] (L54) at (690,1502) {54};
\end{scope}

%================ zoom 12
\begin{scope}[zA={1220}{1150}]
% 61
\draw[thk] (58,15)--(58,450)--(550,450);
\draw[thk] (550,15)--(550,380);
\draw[thk] (118,385)--(118,20)--(490,20)--(490,380);
\draw[thk] (168,290)--(168,65)--(437,65)--(437,290);
\draw[thk] (298,158)--(298,245);
\foreach \y in {65,155,245,340} {\draw[thn] (58,\y)--(118,\y); \draw[thn] (490,\y)--(550,\y);}
\foreach \y in {155,245} {\draw[thn] (118,\y)--(490,\y);}
\draw[thn] (218,20)--(218,65); \draw[thn] (385,20)--(385,65);
\node[lab] (L61) at (62,492) {61};
% 70
\draw[thk] (655,12)--(655,448)--(1165,448);
\draw[thn] (655,12)--(1165,12)--(1165,448);
\draw[dbl] (718,180)--(854,72); \draw[dbl] (718,72)--(786,18); \draw[dbl] (786,18)--(922,126); \draw[dbl] (718,72)--(854,180); \draw[dbl] (718,180)--(786,234);
\draw[dbl] (1126,180)--(990,72); \draw[dbl] (1126,72)--(1058,18); \draw[dbl] (1058,18)--(922,126); \draw[dbl] (1126,72)--(990,180); \draw[dbl] (1126,180)--(1058,234);
\draw[thk] (922,126)--(1058,234)--(922,342)--(786,234)--cycle;
\foreach \p in {(718,72),(786,18),(786,126),(718,180),(854,72),(854,180),(922,126),(1126,72),(1058,18),(1058,126),(1126,180),(990,72),(990,180)} {\fill \p circle (2.4pt);}
\draw[thk] (792,335)--(792,448); \draw[thk] (1052,340)--(1052,448);
\node[lab] (L70) at (672,492) {70};
% 62
\draw[thk] (62,535)--(62,950)--(560,950);
\foreach \y in {622,765,900} {\draw[thk] (62,\y)--(560,\y);}
\foreach \a/\b in {120/230,285/392,450/560} {\draw[thk] (\a,622)--(\a,535)--(\b,535)--(\b,622); \draw[thk] (\a,765)--(\a,675)--(\b,675)--(\b,765); \draw[thk] (\a,900)--(\a,810)--(\b,810)--(\b,900);}
\foreach \x in {80,95,255,265,420,432} {\draw[thn] (\x,622)--(\x,950);}
\node[lab] (L62) at (65,998) {62};
% 71
\draw[thk] (662,525) rectangle (1168,948);
\draw[dbl] (855,525)--(855,800); \draw[dbl] (972,525)--(972,800);
\foreach \y in {568,618,678,735} {\draw[dbl] (855,\y)--(972,\y); \blk{855}{\y} \blk{972}{\y}}
\draw[thn] (855,800)--(972,800);
\draw[thk] (700,680)--(775,620)--(848,680)--(775,740)--cycle;
\draw[thk] (700,800)--(775,740)--(848,800)--(775,860)--cycle;
\draw[thk] (980,680)--(1065,620)--(1140,680)--(1065,740)--cycle;
\draw[thk] (980,800)--(1065,740)--(1140,800)--(1065,860)--cycle;
\node[lab] (L71) at (672,998) {71};
% 63
\draw[thk] (75,1048) rectangle (562,1455);
\foreach \x in {180,190,235,245} {\draw[thn] (\x,1048)--(\x,1455);}
\draw[thk] (180,1145)--(400,1145)--(400,1365);
\draw[thk] (245,1365)--(455,1365)--(455,1285);
\draw[thk] (455,1048)--(455,1140);
\draw[thk] (455,1210)--(562,1210);
\foreach \y in {1285,1330,1370} {\draw[thn] (75,\y-4)--(190,\y-4); \draw[thn] (75,\y+4)--(190,\y+4);}
\draw[thn] (235,1190)--(385,1190)--(385,1150);
\draw[thn] (245,1320)--(395,1320);
\foreach \x in {382,395} {\draw[thn] (\x,1150)--(\x,1455);}
\node[lab] (L63) at (88,1502) {63};
% 72
\draw[thk] (670,1040) rectangle (1185,1450);
\draw[thk] (928,1118)--(1085,1245)--(928,1370)--(775,1245)--cycle;
\foreach \x/\e in {720/1205,782/1160,843/1105,1000/1105,1062/1165,1125/1200} {\draw[thk] (\x,1040)--(\x,\e);}
\foreach \x/\s in {720/1290,785/1340,848/1390,1008/1380,1068/1330,1130/1290} {\draw[thk] (\x,\s)--(\x,1450);}
\node[lab] (L72) at (675,1497) {72};
\end{scope}
\end{tikzpicture}
\end{document}
